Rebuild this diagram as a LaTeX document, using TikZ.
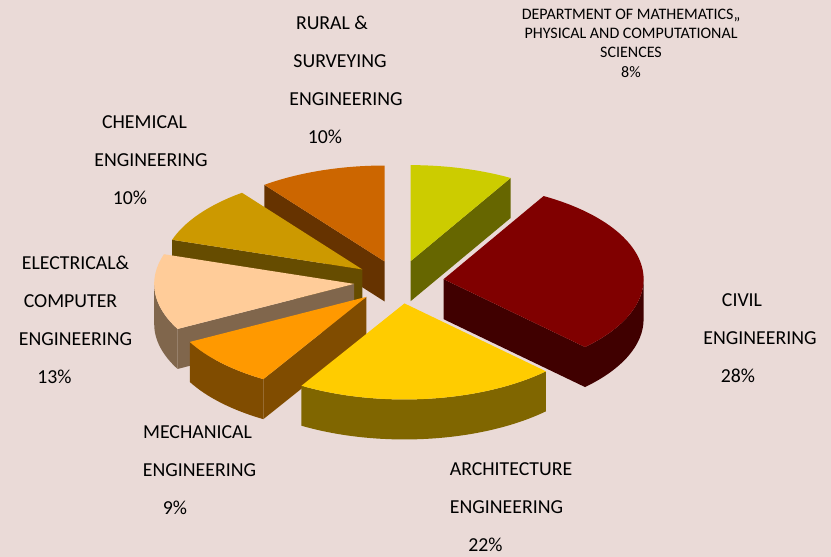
\documentclass[tikz,border=0pt]{standalone}
\usepackage{fontspec}
\setmainfont{Carlito}
\usetikzlibrary{calc}
\definecolor{pagebg}{RGB}{234,218,215}
\definecolor{mathtop}{RGB}{204,204,0}
\definecolor{civiltop}{RGB}{128,0,0}
\definecolor{archtop}{RGB}{255,204,0}
\definecolor{mechtop}{RGB}{255,153,0}
\definecolor{electop}{RGB}{255,204,153}
\definecolor{chemtop}{RGB}{204,153,0}
\definecolor{ruraltop}{RGB}{204,102,0}
\begin{document}
\begin{tikzpicture}[x=1pt, y=1pt,
    rim/.style = {x radius=200pt, y radius=96pt},
    legendtext/.style = {align=center, inner sep=0pt, anchor=north,
      font=\fontsize{19.8}{38}\selectfont},
    smalltext/.style = {align=center, inner sep=0pt, anchor=north,
      font=\fontsize{16}{19.2}\selectfont}]
  \useasboundingbox (0,0) rectangle (831,-557);
  \fill[pagebg] (0,0) rectangle (831,-557);
  % pie centre and exploded slice centres
  \coordinate (O) at (399,-282);
  \coordinate (math) at ($(O)+(75:45pt and 21.6pt)$);
  \coordinate (civil) at ($(O)+(7.5:45pt and 21.6pt)$);
  \coordinate (arch) at ($(O)+(-83:45pt and 21.6pt)$);
  \coordinate (mech) at ($(O)+(-136.5:45pt and 21.6pt)$);
  \coordinate (elec) at ($(O)+(-175:45pt and 21.6pt)$);
  \coordinate (chem) at ($(O)+(144.5:45pt and 21.6pt)$);
  \coordinate (rural) at ($(O)+(108.5:45pt and 21.6pt)$);
  % rural
  \fill[ruraltop!50!black] (rural) -- ++(127:200pt and 96pt) -- ++(0,-40) -- ($(rural)+(0,-40)$) -- cycle;
  \fill[ruraltop] (rural) -- ++(127:200pt and 96pt) arc[rim, start angle=127, end angle=90] -- cycle;
  % math
  \fill[mathtop!50!black] (math) -- ++(60:200pt and 96pt) -- ++(0,-40) -- ($(math)+(0,-40)$) -- cycle;
  \fill[mathtop] (math) -- ++(90:200pt and 96pt) arc[rim, start angle=90, end angle=60] -- cycle;
  % chemical
  \fill[chemtop!50!black] (chem) -- ++(162:200pt and 96pt) -- ++(0,-40) -- ($(chem)+(0,-40)$) -- cycle;
  \fill[chemtop] (chem) -- ++(162:200pt and 96pt) arc[rim, start angle=162, end angle=127] -- cycle;
  % civil
  \fill[civiltop!50!black] (civil) -- ++(-45:200pt and 96pt) -- ++(0,-40) -- ($(civil)+(0,-40)$) -- cycle;
  \fill[civiltop!50!black] ($(civil)+(0:200pt and 96pt)$) arc[rim, start angle=0, end angle=-45] -- ++(0,-40) arc[rim, start angle=-45, end angle=0] -- cycle;
  \fill[civiltop] (civil) -- ++(60:200pt and 96pt) arc[rim, start angle=60, end angle=-45] -- cycle;
  % electrical
  \fill[electop!50!black] (elec) -- ++(-152:200pt and 96pt) -- ++(0,-40) -- ($(elec)+(0,-40)$) -- cycle;
  \fill[electop!50!black] ($(elec)+(-152:200pt and 96pt)$) arc[rim, start angle=-152, end angle=-180] -- ++(0,-40) arc[rim, start angle=-180, end angle=-152] -- cycle;
  \fill[electop] (elec) -- ++(-152:200pt and 96pt) arc[rim, start angle=-152, end angle=-198] -- cycle;
  % mechanical
  \fill[mechtop!50!black] (mech) -- ++(-121:200pt and 96pt) -- ++(0,-40) -- ($(mech)+(0,-40)$) -- cycle;
  \fill[mechtop!50!black] ($(mech)+(-121:200pt and 96pt)$) arc[rim, start angle=-121, end angle=-152] -- ++(0,-40) arc[rim, start angle=-152, end angle=-121] -- cycle;
  \fill[mechtop] (mech) -- ++(-121:200pt and 96pt) arc[rim, start angle=-121, end angle=-152] -- cycle;
  % architecture
  \fill[archtop!50!black] ($(arch)+(-45:200pt and 96pt)$) arc[rim, start angle=-45, end angle=-121] -- ++(0,-40) arc[rim, start angle=-121, end angle=-45] -- cycle;
  \fill[archtop] (arch) -- ++(-45:200pt and 96pt) arc[rim, start angle=-45, end angle=-121] -- cycle;
  % labels
  \node[smalltext] (mathlbl) at (631,-8.9) {DEPARTMENT OF MATHEMATICS,,\\PHYSICAL AND COMPUTATIONAL\\SCIENCES\\8\%};
  \node[legendtext] (rurallbl) at (346,-15.5) {\mbox{RURAL \&\hspace{28pt}}\\\mbox{SURVEYING\hspace{12pt}}\\ENGINEERING\\\mbox{10\%\hspace{42pt}}};
  \node[legendtext] (chemlbl) at (151,-115.5) {\mbox{CHEMICAL\hspace{13pt}}\\ENGINEERING\\\mbox{10\%\hspace{42pt}}};
  \node[legendtext] (eleclbl) at (75.5,-255.5) {ELECTRICAL\&\\\mbox{COMPUTER\hspace{10pt}}\\ENGINEERING\\\mbox{13\%\hspace{42pt}}};
  \node[legendtext] (civillbl) at (760,-293.5) {\mbox{CIVIL\hspace{36pt}}\\ENGINEERING\\\mbox{28\%\hspace{44pt}}};
  \node[legendtext] (mechlbl) at (199.5,-425.5) {\mbox{MECHANICAL\hspace{4pt}}\\ENGINEERING\\\mbox{9\%\hspace{49pt}}};
  \node[legendtext] (archlbl) at (511,-462.5) {ARCHITECTURE\\\mbox{ENGINEERING\hspace{9pt}}\\\mbox{22\%\hspace{51pt}}};
\end{tikzpicture}
\end{document}
